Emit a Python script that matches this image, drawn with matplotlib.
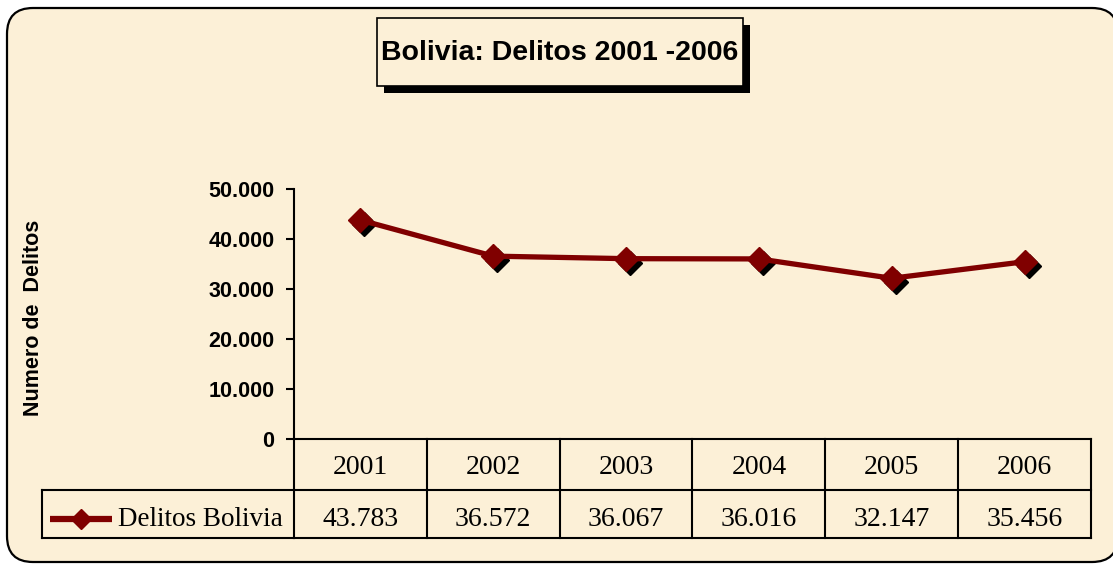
import matplotlib
matplotlib.use('Agg')
import matplotlib.pyplot as plt
from matplotlib.patches import FancyBboxPatch, Rectangle
from matplotlib import transforms, font_manager

# ---- data ----
years = ['2001', '2002', '2003', '2004', '2005', '2006']
delitos = [43783, 36572, 36067, 36016, 32147, 35456]
value_labels = ['43.783', '36.572', '36.067', '36.016', '32.147', '35.456']
y_ticks = [0, 10000, 20000, 30000, 40000, 50000]
y_tick_labels = ['0', '10.000', '20.000', '30.000', '40.000', '50.000']
series_name = 'Delitos Bolivia'
title_text = 'Bolivia: Delitos 2001 -2006'
ylabel_text = 'Numero de  Delitos'

W, H = 1113, 568
BG = '#FCF0D7'
RED = '#800000'

def has_font(name):
    try:
        font_manager.findfont(font_manager.FontProperties(family=name, weight='bold'),
                              fallback_to_default=False)
        return True
    except Exception:
        return False

narrow = has_font('Liberation Sans Narrow')
sans = 'Liberation Sans'
serif = 'Liberation Serif'

fig = plt.figure(figsize=(W / 100, H / 100), dpi=100, facecolor='white')

# background axes in pixel coordinates
bg = fig.add_axes([0, 0, 1, 1])
bg.set_xlim(0, W)
bg.set_ylim(H, 0)
bg.axis('off')
bg.add_patch(FancyBboxPatch((7, 8), 1111, 554,
                            boxstyle='round,pad=0,rounding_size=26',
                            facecolor=BG, edgecolor='black', linewidth=1.6,
                            clip_on=False))

# title box with shadow
bg.add_patch(Rectangle((384, 25), 366, 68, facecolor='black', edgecolor='none'))
bg.add_patch(Rectangle((377, 18), 366, 68, facecolor=BG, edgecolor='black', linewidth=1.2))
if narrow:
    bg.text(560, 53, title_text, ha='center', va='center', fontsize=24.5,
            fontweight='bold', family='Liberation Sans Narrow')
else:
    bg.text(560, 53, title_text, ha='center', va='center', fontsize=20.5,
            fontweight='bold', family=sans)

# y label
bg.text(34, 318, ylabel_text, rotation=90, ha='center', va='center',
        fontsize=15.5, fontweight='bold', family=sans)

# main axes
ax = fig.add_axes([294 / W, (H - 439) / H, 797 / W, 250 / H])
ax.set_facecolor('none')
n = len(years)
ax.set_xlim(-0.5, n - 0.5)
ax.set_ylim(0, 50000)
for s in ['top', 'right']:
    ax.spines[s].set_visible(False)
ax.spines['left'].set_linewidth(1.5)
ax.spines['bottom'].set_linewidth(1.5)
ax.set_xticks([])
ax.set_yticks(y_ticks)
ax.set_yticklabels(y_tick_labels, fontsize=15.5, fontweight='bold', family=sans)
ax.tick_params(axis='y', direction='out', length=6, width=1.5, pad=8)

xs = list(range(n))
shadow = transforms.offset_copy(ax.transData, fig=fig, x=4, y=-4, units='dots')
ax.plot(xs, delitos, linestyle='none', marker='D', markersize=12.5,
        color='black', transform=shadow, clip_on=False, zorder=2)
ax.plot(xs, delitos, color=RED, linewidth=3.8, zorder=3, clip_on=False)
ax.plot(xs, delitos, linestyle='none', marker='D', markersize=12.5,
        color=RED, zorder=4, clip_on=False)

# data table
blend = transforms.blended_transform_factory(ax.transData, ax.transAxes)
row1 = -51 / 250
row2 = -99 / 250
lw = 1.5
for i in range(n + 1):
    ax.plot([i - 0.5, i - 0.5], [0, row2], color='black', linewidth=lw,
            transform=blend, clip_on=False)
for i in range(n):
    ax.text(i, -28 / 250, years[i], transform=blend, ha='center', va='center',
            fontsize=20, family=serif)
    ax.text(i, -80 / 250, value_labels[i], transform=blend, ha='center',
            va='center', fontsize=20, family=serif)
ax.plot([-0.5, n - 0.5], [row1, row1], color='black', linewidth=lw,
        transform=blend, clip_on=False)
ax.plot([-0.5, n - 0.5], [row2, row2], color='black', linewidth=lw,
        transform=blend, clip_on=False)

# legend cell (pixel coords)
bg.plot([42, 294], [490, 490], color='black', linewidth=lw)
bg.plot([42, 294], [538, 538], color='black', linewidth=lw)
bg.plot([42, 42], [490, 538], color='black', linewidth=lw)
bg.plot([50, 112], [519, 519], color=RED, linewidth=4.5, solid_capstyle='butt')
bg.plot([81], [519], marker='D', markersize=10, color=RED, linestyle='none')
bg.text(118, 520, series_name, ha='left', va='center', fontsize=19.5, family=serif)

fig.savefig('out.png', dpi=100, facecolor='white')
